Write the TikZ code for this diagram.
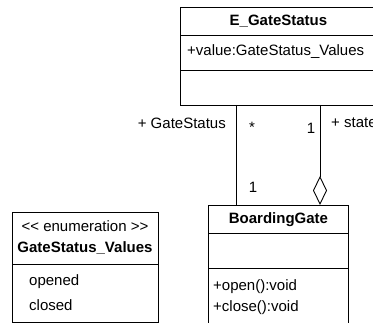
\documentclass[tikz,border=0pt]{standalone}
\usepackage{fontspec}
\setmainfont{Liberation Sans}
\usetikzlibrary{arrows.meta}

\begin{document}
\begin{tikzpicture}[x=1pt,y=-1pt,
  comp/.style={draw,line width=0.9pt,anchor=north west,inner sep=0pt},
  txt/.style={font=\fontsize{15}{18}\selectfont,inner sep=0pt},
  ttl/.style={txt,font=\fontsize{15}{18}\selectfont\bfseries},
  assoc/.style={line width=0.9pt}]
\useasboundingbox (0,0) rectangle (373,323);
% E_GateStatus
\node[comp,minimum width=196pt,minimum height=28pt] (es-name) at (180,7) {};
\node[comp,minimum width=196pt,minimum height=35pt] (es-attr) at (180,35) {};
\node[comp,minimum width=196pt,minimum height=35pt] (es-ops) at (180,70) {};
\node[ttl] (es-title) at (es-name) {E\_GateStatus};
\node[txt,anchor=west] (es-value) at (187,52) {+value:GateStatus\_Values};
% BoardingGate
\node[comp,minimum width=140pt,minimum height=28pt] (bg-name) at (208,205) {};
\node[comp,minimum width=140pt,minimum height=35pt] (bg-attr) at (208,233) {};
\node[comp,minimum width=140pt,minimum height=70pt] (bg-ops) at (208,268) {};
\node[ttl] (bg-title) at (bg-name) {BoardingGate};
\node[txt,anchor=west] (bg-open) at (213,287) {+open():void};
\node[txt,anchor=west] (bg-close) at (213,308) {+close():void};
% GateStatus_Values
\node[comp,minimum width=146pt,minimum height=52pt] (gv-name) at (12,212) {};
\node[comp,minimum width=146pt,minimum height=58pt] (gv-lits) at (12,264) {};
\node[txt] (gv-stereo) at (85,226) {<\kern0pt< enumeration >\kern0pt>};
\node[ttl] (gv-title) at (85,248) {GateStatus\_Values};
\node[txt,anchor=west] (gv-opened) at (29,282) {opened};
\node[txt,anchor=west] (gv-closed) at (29,305) {closed};
% associations
\coordinate (gs-end) at (236,105);
\coordinate (st-end) at (320,105);
\draw[assoc] (gs-end) -- (gs-end |- bg-name.north);
\draw[assoc,-{Diamond[open,length=29pt,width=14pt]}] (st-end) -- (st-end |- bg-name.north);
\node[txt,anchor=east] (gs-role) at (226,123) {+ GateStatus};
\node[txt] (gs-many) at (252,127) {*};
\node[txt] (gs-one) at (253,187) {1};
\node[txt] (st-one) at (311,128) {1};
\node[txt,anchor=west] (st-role) at (331,123) {+ state};
\end{tikzpicture}
\end{document}
